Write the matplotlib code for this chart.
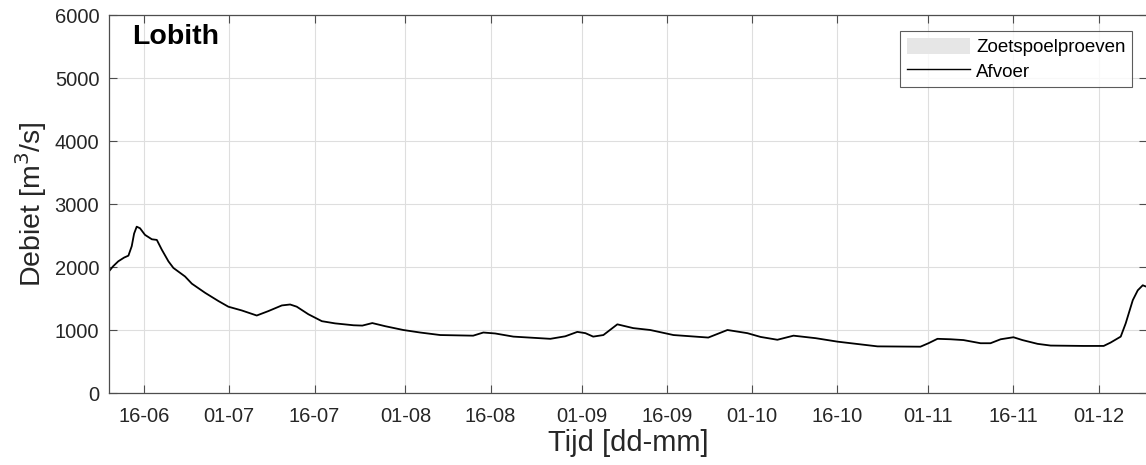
import matplotlib
matplotlib.use('Agg')
import matplotlib.pyplot as plt
import matplotlib.dates as mdates
from matplotlib.patches import Patch
import numpy as np
import pandas as pd

# afvoer Lobith
tijd = ['2018-06-10 00:00', '2018-06-10 13:00', '2018-06-11 11:00', '2018-06-12 12:00',
        '2018-06-13 06:00', '2018-06-13 20:00', '2018-06-14 06:00', '2018-06-14 17:00',
        '2018-06-15 07:00', '2018-06-16 04:00', '2018-06-17 09:00', '2018-06-18 06:00',
        '2018-06-19 03:00', '2018-06-20 07:00', '2018-06-21 04:00', '2018-06-23 05:00',
        '2018-06-24 10:00', '2018-06-26 18:00', '2018-06-29 02:00', '2018-06-30 20:00',
        '2018-07-03 05:00', '2018-07-05 20:00', '2018-07-07 21:00', '2018-07-10 06:00',
        '2018-07-11 17:00', '2018-07-12 21:00', '2018-07-14 22:00', '2018-07-17 07:00',
        '2018-07-19 15:00', '2018-07-22 21:00', '2018-07-24 10:00', '2018-07-26 04:00',
        '2018-07-28 11:00', '2018-07-31 15:00', '2018-08-03 14:00', '2018-08-07 03:00',
        '2018-08-12 22:00', '2018-08-14 17:00', '2018-08-16 19:00', '2018-08-20 00:00',
        '2018-08-26 12:00', '2018-08-29 03:00', '2018-08-31 06:00', '2018-09-01 16:00',
        '2018-09-03 01:00', '2018-09-04 20:00', '2018-09-07 07:00', '2018-09-10 02:00',
        '2018-09-13 02:00', '2018-09-17 04:00', '2018-09-23 07:00', '2018-09-26 16:00',
        '2018-09-30 04:00', '2018-10-02 12:00', '2018-10-05 11:00', '2018-10-08 07:00',
        '2018-10-12 05:00', '2018-10-16 01:00', '2018-10-23 02:00', '2018-10-30 15:00',
        '2018-11-01 01:00', '2018-11-02 15:00', '2018-11-04 22:00', '2018-11-07 05:00',
        '2018-11-10 05:00', '2018-11-11 23:00', '2018-11-13 18:00', '2018-11-16 00:00',
        '2018-11-17 14:00', '2018-11-20 06:00', '2018-11-22 13:00', '2018-11-28 08:00',
        '2018-12-01 21:00', '2018-12-03 02:00', '2018-12-04 21:00', '2018-12-05 18:00',
        '2018-12-07 00:00', '2018-12-07 21:00', '2018-12-08 18:00', '2018-12-09 11:00']
afvoer = [1950, 2010, 2090, 2150, 2180, 2330, 2530, 2640, 2615, 2510, 2440, 2430,
          2275, 2090, 1985, 1850, 1735, 1590, 1460, 1370, 1310, 1230, 1300, 1390,
          1405, 1370, 1250, 1140, 1105, 1075, 1070, 1110, 1060, 1000, 960, 920,
          910, 960, 945, 895, 860, 900, 970, 950, 895, 920, 1090, 1030,
          1000, 920, 880, 1000, 950, 890, 845, 910, 870, 815, 740, 735,
          790, 860, 853, 840, 790, 790, 853, 885, 840, 780, 753, 747,
          747, 800, 895, 1105, 1474, 1630, 1710, 1685]

# zoetspoelproeven vallen niet binnen deze periode
proeven = []

tick_data = ['2018-06-16', '2018-07-01', '2018-07-16', '2018-08-01', '2018-08-16',
             '2018-09-01', '2018-09-16', '2018-10-01', '2018-10-16', '2018-11-01',
             '2018-11-16', '2018-12-01']

plt.rcParams['font.family'] = ['Liberation Sans', 'DejaVu Sans']

fig = plt.figure(figsize=(11.46, 4.65), dpi=100)
ax = fig.add_axes([109 / 1146, 72 / 465, 1038 / 1146, 378 / 465])

t = pd.to_datetime(tijd)
for p in proeven:
    ax.axvspan(pd.Timestamp(p[0]), pd.Timestamp(p[1]), color='#e6e6e6', lw=0)
ax.plot(t, afvoer, color='k', linewidth=1.3)

ax.set_xlim(pd.Timestamp('2018-06-09 20:00'), pd.Timestamp('2018-12-09 12:00'))
ax.set_ylim(0, 6000)
ax.set_yticks(np.arange(0, 6001, 1000))
ax.set_xticks(pd.to_datetime(tick_data))
ax.xaxis.set_major_formatter(mdates.DateFormatter('%d-%m'))

axcol = '#4d4d4d'
ax.grid(True, color='#dedede', linewidth=0.8)
ax.set_axisbelow(True)
ax.tick_params(direction='in', top=True, right=True, length=6, width=0.8,
               color=axcol, labelcolor='#262626', labelsize=14.5)
ax.tick_params(axis='x', pad=10)
ax.tick_params(axis='y', pad=7)
for s in ax.spines.values():
    s.set_color(axcol)
    s.set_linewidth(0.9)

ax.set_xlabel('Tijd [dd-mm]', fontsize=21, color='#262626', labelpad=2)
ax.set_ylabel('Debiet [m$^3$/s]', fontsize=20.5, color='#262626', labelpad=4)

ax.text(0.022, 0.942, 'Lobith', transform=ax.transAxes, fontsize=20.5,
        fontweight='bold', va='center', ha='left')

handles = [Patch(facecolor='#e6e6e6', edgecolor='none', label='Zoetspoelproeven'),
           plt.Line2D([], [], color='k', linewidth=1.0, label='Afvoer')]
leg = ax.legend(handles=handles, loc='upper right', bbox_to_anchor=(0.9855, 0.9577),
                fontsize=13.5, frameon=True, fancybox=False, handlelength=3.4,
                handleheight=1.0, handletextpad=0.3, borderpad=0.35,
                labelspacing=0.3, borderaxespad=0)
leg.get_frame().set_edgecolor('#333333')
leg.get_frame().set_linewidth(0.8)

fig.savefig('out.png', dpi=100)
